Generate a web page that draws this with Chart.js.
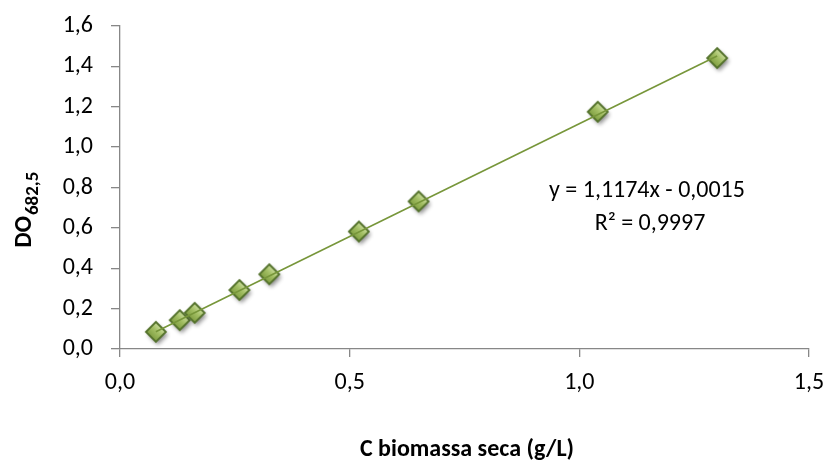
<!DOCTYPE html>
<html>
<head>
<meta charset="utf-8">
<script src="https://cdn.jsdelivr.net/npm/chart.js@4/dist/chart.umd.min.js"></script>
<style>
  html, body { margin: 0; padding: 0; background: #fff; }
  #wrap { width: 828px; height: 462px; }
</style>
</head>
<body>
<div id="wrap"><canvas id="c" width="828" height="462"></canvas></div>
<script>
// Dry biomass concentration (g/L) and optical density at 682.5 nm
const biomassa = [0.078, 0.13, 0.1625, 0.26, 0.325, 0.52, 0.65, 1.04, 1.3];
const densidade = [0.085, 0.143, 0.179, 0.292, 0.370, 0.582, 0.731, 1.175, 1.441];

// Linear fit reported on the chart
const SLOPE = 1.1174;
const INTERCEPT = -0.0015;
const R2 = 0.9997;

const xTicks = [0, 0.5, 1.0, 1.5];
const yTicks = [0, 0.2, 0.4, 0.6, 0.8, 1.0, 1.2, 1.4, 1.6];

const fmt = (v, d) => v.toFixed(d).replace('.', ',');

const points = biomassa.map((x, i) => ({ x, y: densidade[i] }));
const xMin = Math.min(...biomassa), xMax = Math.max(...biomassa);
const trend = [xMin, xMax].map(x => ({ x, y: SLOPE * x + INTERCEPT }));

// Diamond marker with a soft shadow and a light-green gradient
function makeMarker() {
  const s = 36, c = 18, r = 10;
  const cv = document.createElement('canvas');
  cv.width = s; cv.height = s;
  const g = cv.getContext('2d');
  const path = () => {
    g.beginPath();
    g.moveTo(c, c - r); g.lineTo(c + r, c); g.lineTo(c, c + r); g.lineTo(c - r, c);
    g.closePath();
  };
  g.save();
  g.shadowColor = 'rgba(0,0,0,0.45)';
  g.shadowBlur = 4; g.shadowOffsetX = 2; g.shadowOffsetY = 3;
  path(); g.fillStyle = '#6f8f35'; g.fill();
  g.restore();
  const grad = g.createLinearGradient(c + r * 0.6, c - r * 0.6, c - r * 0.6, c + r * 0.6);
  grad.addColorStop(0, '#d2e3a8');
  grad.addColorStop(0.45, '#a3bf64');
  grad.addColorStop(1, '#7a993c');
  path(); g.fillStyle = grad; g.fill();
  g.lineWidth = 1.8; g.strokeStyle = '#52702a'; g.stroke();
  return cv;
}
const marker = makeMarker();

const FONT = 'Carlito, Lato, "Liberation Sans", sans-serif';

const titles = {
  id: 'titles',
  afterDraw(chart) {
    const ctx = chart.ctx;
    ctx.save();
    ctx.fillStyle = '#000';
    // x-axis title
    ctx.font = 'bold 24px ' + FONT;
    ctx.textAlign = 'center';
    ctx.textBaseline = 'alphabetic';
    ctx.fillText('C biomassa seca (g/L)', 467, 456);
    // y-axis title with subscript
    ctx.translate(31, 210);
    ctx.rotate(-Math.PI / 2);
    ctx.textAlign = 'left';
    ctx.font = 'bold 24px ' + FONT;
    const main = 'DO';
    const wMain = ctx.measureText(main).width;
    ctx.font = 'bold 19px ' + FONT;
    const sub = '682,5';
    const wSub = ctx.measureText(sub).width;
    const x0 = -(wMain + wSub) / 2;
    ctx.font = 'bold 24px ' + FONT;
    ctx.fillText(main, x0, 0);
    ctx.font = 'bold 19px ' + FONT;
    ctx.fillText(sub, x0 + wMain + 1, 7);
    ctx.restore();

    // trendline equation
    ctx.save();
    ctx.fillStyle = '#000';
    ctx.font = '24px ' + FONT;
    ctx.textAlign = 'center';
    ctx.textBaseline = 'alphabetic';
    ctx.fillText('y = ' + fmt(SLOPE, 4) + 'x - ' + fmt(-INTERCEPT, 4), 647, 197);
    ctx.fillText('R² = ' + fmt(R2, 4), 650, 230);
    ctx.restore();
  }
};

new Chart(document.getElementById('c'), {
  type: 'scatter',
  data: {
    datasets: [
      {
        type: 'line',
        data: trend,
        borderColor: '#77963a',
        borderWidth: 1.6,
        pointRadius: 0,
        fill: false,
        order: 0
      },
      {
        data: points,
        pointStyle: marker,
        pointRadius: 10,
        showLine: false,
        order: 1
      }
    ]
  },
  options: {
    responsive: false,
    animation: false,
    events: [],
    layout: { padding: { top: 26, right: 19, left: 0, bottom: 0 } },
    plugins: { legend: { display: false }, tooltip: { enabled: false } },
    scales: {
      x: {
        type: 'linear',
        min: 0, max: 1.5,
        afterBuildTicks: s => { s.ticks = xTicks.map(v => ({ value: v })); },
        afterFit: s => { s.height = 113; s.paddingLeft = 0; s.paddingRight = 0; },
        border: { color: '#878787', width: 1.3 },
        grid: { drawOnChartArea: false, color: '#878787', tickLength: 8, lineWidth: 1.3 },
        ticks: {
          color: '#000', padding: 12,
          font: { family: FONT, size: 24 },
          maxRotation: 0,
          callback: v => fmt(v, 1)
        }
      },
      y: {
        type: 'linear',
        min: 0, max: 1.6,
        afterBuildTicks: s => { s.ticks = yTicks.map(v => ({ value: v })); },
        afterFit: s => { s.width = 120; s.paddingTop = 0; s.paddingBottom = 0; },
        border: { color: '#878787', width: 1.3 },
        grid: { drawOnChartArea: false, color: '#878787', tickLength: 9, lineWidth: 1.3 },
        ticks: {
          color: '#000', padding: 18,
          font: { family: FONT, size: 24 },
          callback: v => fmt(v, 1)
        }
      }
    }
  },
  plugins: [titles]
});
</script>
</body>
</html>
